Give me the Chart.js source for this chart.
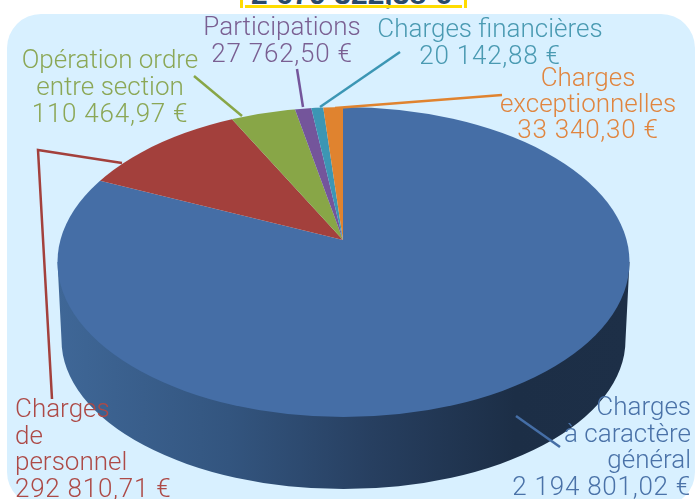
<!DOCTYPE html>
<html>
<head>
<meta charset="utf-8">
<style>
  html, body { margin: 0; padding: 0; background: #fff; overflow: hidden; }
  #wrap { position: relative; width: 695px; height: 499px; overflow: hidden; }
  #panel { position: absolute; left: 7px; top: 14px; width: 688px; height: 492px; background: #d8f0ff; border-radius: 34px; }
  #total { position: absolute; left: 200px; top: -21px; width: 302px; height: 30px; text-align: center;
           font: bold 30px/30px "Liberation Sans", sans-serif; color: #2a4a6b; white-space: nowrap; }
  .gold { position: absolute; background: #ffdc00; }
  canvas { position: absolute; left: 0; top: 0; }
</style>
</head>
<body>
<div id="wrap">
  <div id="panel"></div>
  <div id="total">2 679 322,38 €</div>
  <div class="gold" style="left:240px;top:0;width:3px;height:8px"></div>
  <div class="gold" style="left:464px;top:0;width:3px;height:8px"></div>
  <div class="gold" style="left:245px;top:5px;width:217px;height:3px"></div>
  <canvas id="pieChart" width="695" height="499"></canvas>
</div>
<script src="https://cdn.jsdelivr.net/npm/chart.js@4"></script>
<script>
const categories = ['Charges à caractère général', 'Charges de personnel', 'Opération ordre entre section', 'Participations', 'Charges financières', 'Charges exceptionnelles'];
const values = [2194801.02, 292810.71, 110464.97, 27762.50, 20142.88, 33340.30];
const sliceColors = ['#456ea6', '#a3403c', '#88a647', '#74559b', '#3c96b4', '#e0832f'];
const labelColors = ['#4a72a8', '#ad4a47', '#8ba756', '#7a5f92', '#4a9ab2', '#e0853f'];
const labelLines = [
    ['Charges', 'à caractère', 'général', '2 194 801,02 €'],
    ['Charges', 'de', 'personnel', '292 810,71 €'],
    ['Opération ordre', 'entre section', '110 464,97 €'],
    ['Participations', '27 762,50 €'],
    ['Charges financières', '20 142,88 €'],
    ['Charges', 'exceptionnelles', '33 340,30 €']
];

// ou se placent les textes : x d'ancrage, alignement, baseline de la 1ere ligne, interligne
const labelPlace = [
    { x: 691, align: 'right', y: 415, lh: 26.7 },
    { x: 15, align: 'left', y: 417, lh: 26.7 },
    { x: 110, align: 'center', y: 68, lh: 27 },
    { x: 282, align: 'center', y: 35, lh: 27 },
    { x: 490, align: 'center', y: 37, lh: 26.5 },
    { x: 588, align: 'center', y: 86, lh: 26 }
];
const leaders = [
    [[516, 416], [560, 447]],
    [[122, 163], [38, 150], [52, 399]],
    [[242, 116], [194, 76]],
    [[303, 107], [297, 69]],
    [[320, 107], [400, 52]],
    [[335, 108], [502, 95]]
];

// face du dessus (ellipse), pointe de la tarte, et fond du cylindre
const face = { cx: 343.5, cy: 262, rx: 286, ry: 155 };
const apex = { x: 343, y: 240 };
const bottom = { cx: 343.5, cy: 340, rx: 282, ry: 149 };
const flatten = 0.525;
const drawnRadius = 350;

const pie3d = {
    id: 'pie3d',
    beforeDatasetsDraw(chart) {
        const ctx = chart.ctx;
        const el = chart.getDatasetMeta(0).data[0];

        // paroi du cylindre
        const wall = ctx.createLinearGradient(face.cx - face.rx, 0, face.cx + face.rx, 0);
        wall.addColorStop(0, '#3f6797');
        wall.addColorStop(0.3, '#33557f');
        wall.addColorStop(0.55, '#273f60');
        wall.addColorStop(0.8, '#1c2e46');
        wall.addColorStop(1, '#1d2f47');
        ctx.save();
        ctx.fillStyle = wall;
        ctx.beginPath();
        ctx.moveTo(face.cx - face.rx, face.cy);
        ctx.lineTo(bottom.cx - bottom.rx, bottom.cy);
        ctx.ellipse(bottom.cx, bottom.cy, bottom.rx, bottom.ry, 0, Math.PI, 0, true);
        ctx.lineTo(face.cx + face.rx, face.cy);
        ctx.closePath();
        ctx.fill();
        ctx.restore();

        // la tarte est aplatie puis coupee par l'ellipse du dessus
        ctx.save();
        ctx.beginPath();
        ctx.ellipse(face.cx, face.cy, face.rx, face.ry, 0, 0, Math.PI * 2);
        ctx.clip();
        const s = drawnRadius / el.outerRadius;
        ctx.translate(apex.x, apex.y);
        ctx.scale(s, s * flatten);
        ctx.translate(-el.x, -el.y);
    },
    afterDatasetsDraw(chart) {
        const ctx = chart.ctx;
        ctx.restore();

        ctx.lineWidth = 2.5;
        ctx.lineJoin = 'miter';
        leaders.forEach((pts, i) => {
            ctx.strokeStyle = sliceColors[i];
            ctx.beginPath();
            pts.forEach((p, j) => j ? ctx.lineTo(p[0], p[1]) : ctx.moveTo(p[0], p[1]));
            ctx.stroke();
        });

        ctx.font = '300 26px Roboto, "Liberation Sans", sans-serif';
        ctx.textBaseline = 'alphabetic';
        labelLines.forEach((lines, i) => {
            const p = labelPlace[i];
            ctx.fillStyle = labelColors[i];
            ctx.textAlign = p.align;
            lines.forEach((t, j) => {
                // les montants sont plus larges dans l'original
                ctx.letterSpacing = j === lines.length - 1 ? '0.75px' : '0px';
                ctx.fillText(t, p.x, p.y + j * p.lh);
            });
        });
        ctx.letterSpacing = '0px';
    }
};

new Chart(document.getElementById('pieChart'), {
    type: 'pie',
    data: {
        labels: categories,
        datasets: [{
            data: values,
            backgroundColor: sliceColors,
            borderWidth: 0,
            clip: false
        }]
    },
    options: {
        responsive: false,
        animation: false,
        events: [],
        plugins: { legend: { display: false }, tooltip: { enabled: false } }
    },
    plugins: [pie3d]
});
</script>
</body>
</html>
